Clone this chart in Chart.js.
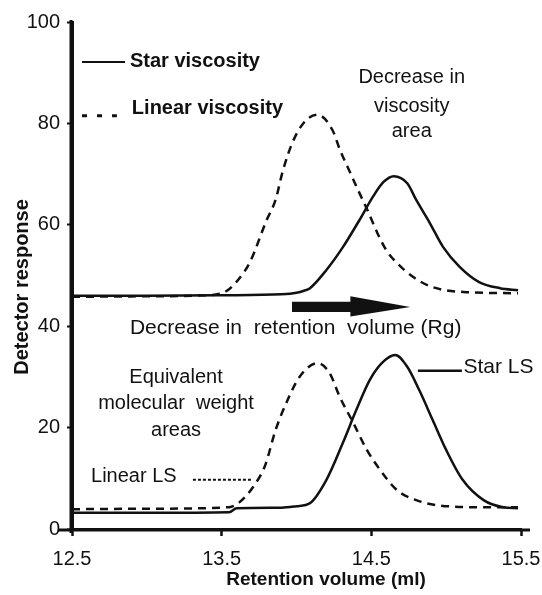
<!DOCTYPE html>
<html>
<head>
<meta charset="utf-8">
<title>Detector response vs retention volume</title>
<script src="https://cdn.jsdelivr.net/npm/chart.js@4/dist/chart.umd.min.js"></script>
<style>
  html, body { margin: 0; padding: 0; background: #fff; }
  #wrap { width: 542px; height: 595px; }
</style>
</head>
<body>
<div id="wrap"><canvas id="SecChart" width="542" height="595"></canvas></div>
<script>
(function () {
  "use strict";

  // Axis ticks
  const xTicks = [12.5, 13.5, 14.5, 15.5];
  const yTicks = [0, 20, 40, 60, 80, 100];

  // Star viscosity (solid, upper trace)
  const starViscX = [12.5, 13.0, 13.5, 13.9, 14.0, 14.05, 14.09, 14.2, 14.31, 14.42, 14.51, 14.58, 14.65, 14.74, 14.8, 14.89, 14.98, 15.09, 15.22, 15.36, 15.48];
  const starViscY = [46.0, 46.0, 46.1, 46.3, 46.6, 47.0, 47.5, 51.1, 55.6, 60.9, 65.5, 68.4, 69.6, 68.2, 64.9, 60.4, 55.6, 51.7, 48.7, 47.5, 47.1];

  // Linear viscosity (dashed, upper trace)
  const linViscX = [12.5, 13.0, 13.45, 13.54, 13.62, 13.69, 13.8, 13.86, 13.91, 13.98, 14.06, 14.14, 14.24, 14.29, 14.36, 14.42, 14.48, 14.54, 14.6, 14.67, 14.78, 14.91, 15.14, 15.48];
  const linViscY = [45.8, 45.9, 46.2, 47.1, 49.5, 52.7, 60.9, 64.9, 70.8, 76.7, 80.5, 81.7, 78.7, 74.8, 70.2, 66.3, 62.5, 58.4, 55.0, 52.5, 49.7, 47.7, 46.7, 46.5];

  // Star LS (solid, lower trace)
  const starLsX = [12.5, 13.0, 13.55, 13.6, 13.9, 14.0, 14.09, 14.2, 14.31, 14.4, 14.49, 14.57, 14.66, 14.74, 14.82, 14.91, 15.0, 15.11, 15.25, 15.38, 15.48];
  const starLsY = [3.2, 3.2, 3.3, 4.1, 4.2, 4.5, 5.1, 9.7, 17.0, 23.5, 29.4, 32.7, 34.3, 32.0, 27.4, 21.5, 15.6, 9.7, 5.7, 4.3, 4.1];

  // Linear LS (dashed, lower trace)
  const linLsX = [12.5, 13.0, 13.55, 13.62, 13.71, 13.79, 13.86, 13.94, 14.02, 14.14, 14.22, 14.29, 14.38, 14.47, 14.56, 14.67, 14.8, 14.94, 15.25, 15.48];
  const linLsY = [3.9, 4.0, 4.3, 5.3, 8.3, 12.5, 19.5, 25.4, 30.0, 32.7, 30.8, 26.0, 20.9, 15.6, 11.6, 7.7, 5.7, 4.7, 4.3, 4.3];

  const black = '#111111';
  const fontFamily = '"Liberation Sans", Arial, Helvetica, sans-serif';

  function toPoints(xs, ys) {
    return xs.map(function (x, i) { return { x: x, y: ys[i] }; });
  }

  function trace(label, xs, ys, dashed) {
    return {
      label: label,
      data: toPoints(xs, ys),
      showLine: true,
      borderColor: black,
      borderWidth: 2.5,
      borderDash: dashed ? [8, 6] : [],
      pointRadius: 0,
      cubicInterpolationMode: 'monotone',
      fill: false
    };
  }

  // Text labels, leader lines and the arrow
  const annotate = {
    id: 'annotate',
    beforeDraw: function (chart) {
      const ctx = chart.ctx;
      ctx.save();
      ctx.fillStyle = '#fff';
      ctx.fillRect(0, 0, chart.width, chart.height);
      ctx.restore();
    },
    afterDraw: function (chart) {
      const ctx = chart.ctx;
      const px = function (v) { return chart.scales.x.getPixelForValue(v); };
      const py = function (v) { return chart.scales.y.getPixelForValue(v); };
      const area = chart.chartArea;

      function seg(x1, x2, y, width, dash) {
        ctx.save();
        ctx.strokeStyle = black;
        ctx.lineWidth = width;
        ctx.setLineDash(dash);
        ctx.beginPath();
        ctx.moveTo(px(x1), py(y));
        ctx.lineTo(px(x2), py(y));
        ctx.stroke();
        ctx.restore();
      }

      function text(str, x, y, font, align) {
        ctx.save();
        ctx.fillStyle = black;
        ctx.font = font;
        ctx.textAlign = align;
        ctx.textBaseline = 'middle';
        ctx.fillText(str, px(x), py(y));
        ctx.restore();
      }

      const bold20 = 'bold 20px ' + fontFamily;
      const reg20 = '20px ' + fontFamily;
      const reg21 = '21px ' + fontFamily;

      // legend entries
      seg(12.567, 12.854, 92.1, 2, []);
      text('Star viscosity', 12.887, 92.3, bold20, 'left');
      seg(12.567, 12.8, 81.5, 3, [5, 10]);
      text('Linear viscosity', 12.9, 83.0, bold20, 'left');

      // upper note
      text('Decrease in', 14.77, 89.0, reg20, 'center');
      text('viscosity', 14.77, 83.4, reg20, 'center');
      text('area', 14.77, 78.5, reg20, 'center');

      // arrow
      ctx.save();
      ctx.fillStyle = black;
      ctx.beginPath();
      ctx.moveTo(px(13.97), py(44.8));
      ctx.lineTo(px(14.36), py(44.8));
      ctx.lineTo(px(14.36), py(45.9));
      ctx.lineTo(px(14.76), py(43.8));
      ctx.lineTo(px(14.36), py(41.9));
      ctx.lineTo(px(14.36), py(42.8));
      ctx.lineTo(px(13.97), py(42.8));
      ctx.closePath();
      ctx.fill();
      ctx.restore();

      text('Decrease in  retention  volume (Rg)', 12.887, 39.6, reg21, 'left');

      // lower notes
      text('Equivalent', 13.195, 29.8, reg20, 'center');
      text('molecular  weight', 13.195, 24.7, reg20, 'center');
      text('areas', 13.195, 19.5, reg20, 'center');

      text('Linear LS', 12.627, 10.3, reg20, 'left');
      seg(13.308, 13.709, 9.7, 2, [3, 2]);

      seg(14.811, 15.105, 31.2, 2.5, []);
      text('Star LS', 15.115, 32.0, reg21, 'left');

      // axis titles
      ctx.save();
      ctx.fillStyle = black;
      ctx.font = 'bold 19px ' + fontFamily;
      ctx.textAlign = 'center';
      ctx.textBaseline = 'middle';
      ctx.fillText('Retention volume (ml)', 326, 580);
      ctx.translate(22, 287);
      ctx.rotate(-Math.PI / 2);
      ctx.font = 'bold 20px ' + fontFamily;
      ctx.fillText('Detector response', 0, 0);
      ctx.restore();

      // axis lines run a little past the plot, as in the print
      ctx.save();
      ctx.strokeStyle = black;
      ctx.lineWidth = 3;
      ctx.beginPath();
      ctx.moveTo(58, area.bottom + 1);
      ctx.lineTo(530, area.bottom + 1);
      ctx.moveTo(area.left - 1, area.top - 2);
      ctx.lineTo(area.left - 1, area.bottom + 4);
      ctx.stroke();
      ctx.restore();
    }
  };

  Chart.defaults.font.family = fontFamily;
  Chart.defaults.color = black;

  const el = document.getElementById('SecChart');
  if (el != null) {
    new Chart(el.getContext('2d'), {
      type: 'scatter',
      data: {
        datasets: [
          trace('Star viscosity', starViscX, starViscY, false),
          trace('Linear viscosity', linViscX, linViscY, true),
          trace('Star LS', starLsX, starLsY, false),
          trace('Linear LS', linLsX, linLsY, true)
        ]
      },
      options: {
        responsive: false,
        animation: false,
        layout: {
          padding: { top: 22, right: 21, bottom: 0, left: 0 }
        },
        scales: {
          x: {
            type: 'linear',
            min: 12.5,
            max: 15.5,
            afterBuildTicks: function (axis) {
              axis.ticks = xTicks.map(function (v) { return { value: v }; });
            },
            afterFit: function (scale) {
              scale.height = 66;
              scale.paddingLeft = 0;
              scale.paddingRight = 0;
            },
            ticks: {
              font: { size: 20 },
              color: black,
              padding: 11,
              maxRotation: 0,
              callback: function (v) { return v.toFixed(1); }
            },
            grid: {
              drawOnChartArea: false,
              tickLength: 7,
              tickWidth: 2.5,
              tickColor: black
            },
            border: { display: true, width: 3, color: black }
          },
          y: {
            type: 'linear',
            min: 0,
            max: 100,
            afterBuildTicks: function (axis) {
              axis.ticks = yTicks.map(function (v) { return { value: v }; });
            },
            afterFit: function (scale) { scale.width = 72; },
            ticks: {
              font: { size: 20 },
              color: black,
              padding: 7
            },
            grid: {
              drawOnChartArea: false,
              tickLength: 5,
              tickWidth: 2,
              tickColor: black
            },
            border: { display: true, width: 3, color: black }
          }
        },
        plugins: {
          legend: { display: false },
          tooltip: { enabled: false }
        }
      },
      plugins: [annotate]
    });
  }
})();
</script>
</body>
</html>
